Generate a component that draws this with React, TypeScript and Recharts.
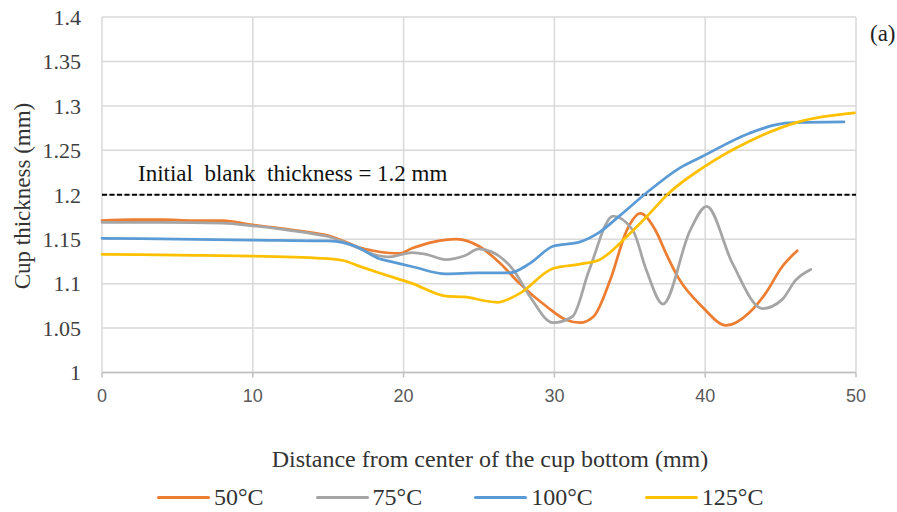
import React from "react";
import {
  LineChart,
  Line,
  XAxis,
  YAxis,
  CartesianGrid,
  ReferenceLine,
  Legend,
} from "recharts";

// distance (mm) / thickness (mm)
const x50 = [0, 2, 4, 6, 8, 10, 12, 14, 15, 16, 17, 18, 19.7, 20.6, 22, 23.5, 25, 26.4, 27.7, 29.5, 30.8, 31.7, 32.6, 33.7, 34.8, 35.7, 36.7, 37.4, 38.2, 39.8, 41.4, 42.9, 44, 45.1, 46.1];
const t50 = [1.171, 1.172, 1.172, 1.171, 1.171, 1.166, 1.162, 1.157, 1.154, 1.148, 1.141, 1.137, 1.134, 1.14, 1.147, 1.15, 1.142, 1.123, 1.1, 1.074, 1.059, 1.056, 1.063, 1.104, 1.16, 1.179, 1.16, 1.134, 1.107, 1.074, 1.053, 1.067, 1.089, 1.119, 1.137];

const x75 = [0, 4, 8, 10, 12, 14, 15, 16, 17, 18, 19, 20.6, 21.5, 22.8, 24, 25, 25.8, 27.3, 28.4, 29.9, 31.2, 32.3, 33.9, 35.2, 36.1, 37.2, 39, 40.1, 41.8, 43.8, 45.1, 46, 47];
const t75 = [1.169, 1.169, 1.168, 1.165, 1.161, 1.156, 1.153, 1.147, 1.14, 1.133, 1.13, 1.135, 1.133, 1.127, 1.131, 1.139, 1.136, 1.115, 1.085, 1.056, 1.063, 1.115, 1.176, 1.16, 1.115, 1.077, 1.16, 1.187, 1.123, 1.072, 1.082, 1.104, 1.116];

const x100 = [0, 5, 10, 15, 16, 16.8, 18.4, 19.1, 20.6, 22.8, 25, 27, 28.4, 29.9, 31.7, 33, 34.3, 36.1, 38.3, 39.8, 42.9, 45.6, 49.2];
const t100 = [1.151, 1.15, 1.149, 1.148, 1.146, 1.142, 1.128, 1.125, 1.119, 1.111, 1.112, 1.112, 1.123, 1.142, 1.147, 1.158, 1.176, 1.202, 1.23, 1.243, 1.269, 1.281, 1.282];

const x125 = [0, 5, 10, 15, 16, 17, 18.4, 20.6, 22.8, 24, 26.2, 27.7, 29.9, 31.7, 33, 34.8, 36.1, 37.6, 39.8, 42.9, 46.2, 49.9];
const t125 = [1.133, 1.132, 1.131, 1.128, 1.126, 1.12, 1.112, 1.1, 1.086, 1.085, 1.079, 1.089, 1.117, 1.122, 1.127, 1.153, 1.175, 1.202, 1.23, 1.26, 1.282, 1.292];

const xTicks = [0, 10, 20, 30, 40, 50];
const yTicks = [1, 1.05, 1.1, 1.15, 1.2, 1.25, 1.3, 1.35, 1.4];

const series = [
  { name: "50°C", xs: x50, ys: t50, color: "#ED7D31" },
  { name: "75°C", xs: x75, ys: t75, color: "#A5A5A5" },
  { name: "100°C", xs: x100, ys: t100, color: "#5B9BD5" },
  { name: "125°C", xs: x125, ys: t125, color: "#FFC000" },
];

const toRows = (xs: number[], ys: number[]) =>
  xs.map((x, i) => ({ x, y: ys[i] }));

const serif = "'Liberation Serif', 'Times New Roman', serif";

const LegendContent = () => (
  <div style={{ display: "flex", alignItems: "center", fontFamily: serif, fontSize: 24, color: "#333" }}>
    {series.map((s) => (
      <div key={s.name} style={{ display: "flex", alignItems: "center", marginRight: 52 }}>
        <span style={{ width: 53, height: 3, background: s.color, marginRight: 4, borderRadius: 2 }} />
        <span>{s.name}</span>
      </div>
    ))}
  </div>
);

const BlankLabel = (props: any) => {
  const vb = props.viewBox || {};
  return (
    <text
      x={vb.x + 36}
      y={vb.y - 14}
      fill="#111"
      fontFamily={serif}
      fontSize={23}
      style={{ whiteSpace: "pre" }}
    >
      {"Initial  blank  thickness = 1.2 mm"}
    </text>
  );
};

export default function App() {
  return (
    <div style={{ position: "absolute", left: 0, top: 0, width: 897, height: 512, background: "#fff" }}>
      <LineChart
        width={897}
        height={512}
        margin={{ top: 17, right: 41, bottom: 79.5, left: 0 }}
      >
        <CartesianGrid stroke="#D9D9D9" strokeWidth={1.5} />
        <XAxis
          type="number"
          dataKey="x"
          domain={[0, 50]}
          ticks={xTicks}
          height={60}
          allowDuplicatedCategory={false}
          stroke="#BFBFBF"
          strokeWidth={1.5}
          tickSize={5}
          tickMargin={12}
          tick={{ fill: "#595959", fontSize: 18, fontFamily: "'Liberation Sans', Arial, sans-serif" }}
          label={(p: any) => {
            const vb = p.viewBox || {};
            return (
              <text
                x={vb.x + vb.width / 2 + 11}
                y={467}
                textAnchor="middle"
                fill="#333"
                fontFamily={serif}
                fontSize={24}
              >
                Distance from center of the cup bottom (mm)
              </text>
            );
          }}
        />
        <YAxis
          type="number"
          domain={[1, 1.4]}
          ticks={yTicks}
          width={102}
          axisLine={false}
          tickLine={false}
          tickSize={0}
          tickMargin={21}
          tickFormatter={(v: number) => String(+v.toFixed(2))}
          tick={{ fill: "#404040", fontSize: 22, fontFamily: serif }}
          label={() => (
            <text
              x={0}
              y={0}
              transform="translate(30, 196) rotate(-90)"
              textAnchor="middle"
              fill="#333"
              fontFamily={serif}
              fontSize={23}
            >
              Cup thickness (mm)
            </text>
          )}
        />
        <ReferenceLine
          y={1.2}
          stroke="#000"
          strokeWidth={2}
          strokeDasharray="5 2.5"
          label={<BlankLabel />}
        />
        {series.map((s) => (
          <Line
            key={s.name}
            name={s.name}
            data={toRows(s.xs, s.ys)}
            dataKey="y"
            type="monotone"
            stroke={s.color}
            strokeWidth={2.75}
            strokeLinecap="round"
            dot={false}
            activeDot={false}
            isAnimationActive={false}
          />
        ))}
        <Legend
          layout="horizontal"
          verticalAlign="middle"
          align="center"
          content={<LegendContent />}
          wrapperStyle={{ left: 157, top: 484, width: 700 }}
        />
      </LineChart>
      <div
        style={{
          position: "absolute",
          left: 870,
          top: 21,
          fontFamily: serif,
          fontSize: 23,
          color: "#222",
        }}
      >
        (a)
      </div>
    </div>
  );
}
